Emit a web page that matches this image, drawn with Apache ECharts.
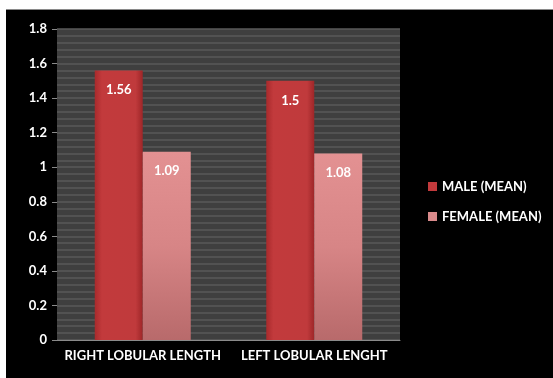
<!DOCTYPE html>
<html>
<head>
<meta charset="utf-8">
<script src="https://cdn.jsdelivr.net/npm/echarts@6/dist/echarts.min.js"></script>
<style>
  html, body { margin: 0; padding: 0; background: #ffffff; }
  #chart { position: absolute; left: 6px; top: 10px; width: 547px; height: 368px;
           background: #000000; box-shadow: 0 -1px 0 #8a8a8a; }
</style>
</head>
<body>
<div id="chart"></div>
<script>
// Lobular length means by sex
const categories = ['RIGHT LOBULAR LENGTH', 'LEFT LOBULAR LENGHT'];
const maleMean = [1.56, 1.5];
const femaleMean = [1.09, 1.08];
const seriesNames = ['MALE (MEAN)', 'FEMALE (MEAN)'];

const FONT = 'Lato, "Open Sans", sans-serif';

const maleFill = new echarts.graphic.LinearGradient(0, 0, 1, 0, [
  { offset: 0, color: '#a82a2c' },
  { offset: 0.15, color: '#c23a3c' },
  { offset: 0.85, color: '#c03a3c' },
  { offset: 1, color: '#9e2628' }
]);
const femaleFill = new echarts.graphic.LinearGradient(0, 0, 0, 1, [
  { offset: 0, color: '#e39192' },
  { offset: 0.5, color: '#d78586' },
  { offset: 1, color: '#b86a6b' }
]);

const chart = echarts.init(document.getElementById('chart'));
chart.setOption({
  backgroundColor: '#000000',
  animation: false,
  grid: {
    left: 51, right: 153, top: 19, bottom: 38,
    show: true, backgroundColor: '#3f3f3f', borderWidth: 0
  },
  legend: {
    orient: 'vertical',
    left: 417, top: 165,
    itemWidth: 9, itemHeight: 9, itemGap: 17,
    icon: 'rect',
    textStyle: { color: '#ffffff', fontFamily: FONT, fontWeight: 'bold', fontSize: 13 },
    data: [
      { name: seriesNames[0], itemStyle: { color: '#c23a3c' } },
      { name: seriesNames[1], itemStyle: { color: '#d98a8b' } }
    ]
  },
  xAxis: {
    type: 'category',
    data: categories,
    axisLine: { show: true, lineStyle: { color: '#8a8a8a', width: 1 } },
    axisTick: { show: false },
    axisLabel: { interval: 0, color: '#ffffff', fontFamily: FONT, fontWeight: 'bold', fontSize: 13, margin: 9 }
  },
  yAxis: {
    type: 'value',
    min: 0, max: 1.8, interval: 0.2,
    axisLine: { show: false },
    axisTick: { show: true, length: 5, lineStyle: { color: '#8a8a8a' } },
    axisLabel: {
      color: '#ffffff', fontFamily: FONT, fontWeight: 'bold', fontSize: 13, margin: 10,
      formatter: v => String(Math.round(v * 10) / 10)
    },
    splitLine: { show: true, lineStyle: { color: '#5a5a5a', width: 1.5 } },
    minorTick: { show: false, splitNumber: 5 },
    minorSplitLine: { show: true, lineStyle: { color: '#5a5a5a', width: 1.5 } }
  },
  series: [
    {
      name: seriesNames[0], type: 'bar', data: maleMean,
      barWidth: 48, barGap: '0%',
      itemStyle: { color: maleFill },
      label: {
        show: true, position: 'insideTop', distance: 13,
        color: '#ffffff', fontFamily: FONT, fontWeight: 'bold', fontSize: 13
      }
    },
    {
      name: seriesNames[1], type: 'bar', data: femaleMean,
      barWidth: 48,
      itemStyle: { color: femaleFill },
      label: {
        show: true, position: 'insideTop', distance: 13,
        color: '#ffffff', fontFamily: FONT, fontWeight: 'bold', fontSize: 13
      }
    }
  ]
});
</script>
</body>
</html>
